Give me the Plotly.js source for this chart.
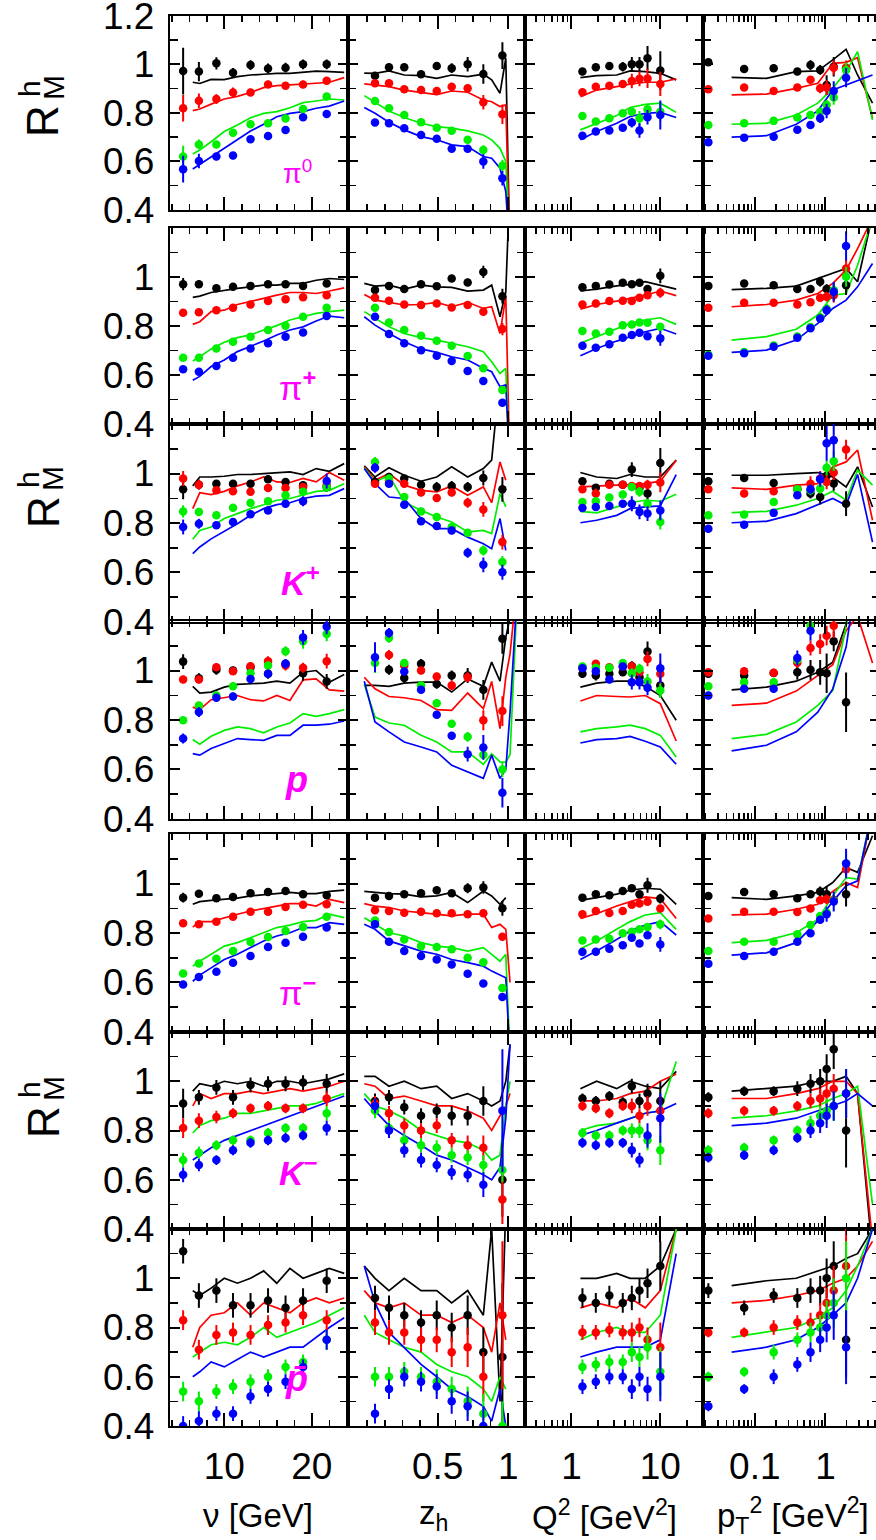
<!DOCTYPE html>
<html><head><meta charset="utf-8">
<script src="https://cdn.plot.ly/plotly-3.0.1.min.js"></script>
<style>html,body{margin:0;padding:0;overflow:hidden;background:#fff}#plot{width:882px;height:1540px}</style>
</head><body><div id="plot"></div>
<script>
// ---------- x positions ----------
const NU_PTS  = [5.3, 7.1, 9.1, 11.0, 13.0, 15.0, 17.0, 19.0, 21.7];
const NU_LINE = [6.4, 7.2, 8.5, 10, 11.5, 13, 14.5, 16, 17.5, 19, 20.5, 22, 23.7];
const Z_PTS   = [0.056, 0.155, 0.263, 0.382, 0.493, 0.599, 0.712, 0.823, 0.958];
const Z_LINE  = [-0.02, 0.056, 0.155, 0.263, 0.382, 0.493, 0.599, 0.712, 0.823, 0.882, 0.941, 0.982, 1.012, 1.071];
const Q2_PTS  = [1.33, 1.88, 2.67, 3.78, 4.78, 5.83, 7.18, 10];
const Q2_LINE = [1.26, 1.92, 3.23, 4.57, 6.77, 10, 15.1];
const PT_PTS  = [0.022, 0.0707, 0.185, 0.40, 0.615, 0.842, 1.04, 1.31, 1.96];
const PT_LINE = [0.047, 0.146, 0.386, 0.78, 1.27, 1.96, 2.85, 4.64];

// series order in every array: black, red, green, blue
// ================= pi0 =================
const pi0_nu_pts = [[0.972,0.970,1.004,0.965,0.997,0.983,0.986,1.0,1.0],[0.819,0.85,0.857,0.884,0.884,0.917,0.912,0.917,0.932],[0.62,0.67,0.67,0.718,0.753,0.757,0.777,0.816,0.867],[0.568,0.602,0.62,0.624,0.691,0.705,0.729,0.782,0.795]];
const pi0_nu_err = [[0.096,0.04,0.025,0.02,0.02,0.02,0.02,0.02,0.02],[0.055,0.03,0.02,0.02,0.015,0.015,0.015,0.015,0.015],[0.045,0.02,0.015,0.015,0.015,0.015,0.015,0.015,0.015],[0.055,0.03,0.015,0.015,0.015,0.015,0.015,0.015,0.015]];
const pi0_nu_lin = [[0.926,0.921,0.938,0.937,0.949,0.956,0.959,0.963,0.963,0.967,0.972,0.97,0.967],[0.809,0.816,0.836,0.857,0.868,0.884,0.904,0.912,0.915,0.92,0.922,0.926,0.945],[0.631,0.647,0.681,0.723,0.75,0.78,0.798,0.805,0.821,0.842,0.849,0.857,0.853],[0.569,0.588,0.62,0.654,0.688,0.725,0.753,0.784,0.798,0.805,0.819,0.828,0.849]];
const pi0_z_pts = [[0.953,0.988,0.988,0.959,0.993,0.984,1.0,0.96,1.036],[0.922,0.922,0.897,0.894,0.89,0.908,0.901,0.844,0.794],[0.849,0.819,0.791,0.761,0.739,0.726,0.689,0.647,0.582],[0.76,0.757,0.737,0.709,0.693,0.652,0.652,0.6,0.531]];
const pi0_z_err = [[0.015,0.015,0.015,0.015,0.015,0.02,0.03,0.04,0.055],[0.012,0.012,0.012,0.012,0.012,0.015,0.015,0.03,0.04],[0.012,0.012,0.012,0.012,0.012,0.012,0.015,0.02,0.025],[0.012,0.012,0.012,0.012,0.012,0.012,0.015,0.03,0.03]];
const pi0_z_lin = [[0.964,0.963,0.973,0.956,0.953,0.942,0.956,0.949,0.959,0.936,0.881,1.025,0.2,null],[0.919,0.915,0.908,0.894,0.885,0.875,0.89,0.885,0.853,0.846,0.826,0.833,0.2,null],[0.871,0.844,0.808,0.781,0.757,0.743,0.737,0.726,0.709,0.689,0.654,0.6,0.2,null],[0.822,0.798,0.761,0.73,0.702,0.689,0.668,0.661,0.62,0.613,0.572,0.476,0.2,null]];
const pi0_q2_pts = [[0.97,0.988,0.993,0.99,1.0,1.0,1.025,0.974],[0.885,0.908,0.912,0.919,0.931,0.94,0.942,0.919],[0.787,0.764,0.778,0.798,0.805,0.778,0.815,0.805],[0.706,0.723,0.727,0.739,0.76,0.727,0.782,0.791]];
const pi0_q2_err = [[0.015,0.015,0.015,0.02,0.03,0.03,0.05,0.08],[0.015,0.015,0.015,0.015,0.03,0.03,0.04,0.05],[0.012,0.012,0.012,0.012,0.015,0.03,0.02,0.04],[0.012,0.012,0.012,0.015,0.02,0.03,0.03,0.06]];
const pi0_q2_lin = [[0.945,0.953,0.956,0.973,0.97,0.963,0.936],[0.867,0.894,0.908,0.918,0.926,0.926,0.94],[0.73,0.757,0.789,0.822,0.835,0.84,0.802],[0.689,0.723,0.757,0.785,0.798,0.802,0.781]];
const pi0_pt_pts = [[1.008,0.981,0.984,0.97,0.997,0.977,0.915,0.99,0.984],[0.897,0.904,0.89,0.904,0.936,0.901,0.904,0.986,0.986],[0.75,0.757,0.767,0.781,0.791,0.805,0.833,0.863,0.977],[0.679,0.698,0.702,0.73,0.75,0.778,0.808,0.89,0.945]];
const pi0_pt_err = [[0.015,0.015,0.015,0.015,0.02,0.02,0.04,0.04,0.03],[0.012,0.012,0.012,0.012,0.015,0.02,0.03,0.03,0.03],[0.012,0.012,0.012,0.012,0.015,0.015,0.02,0.03,0.03],[0.012,0.012,0.012,0.012,0.015,0.02,0.03,0.04,0.04]];
const pi0_pt_lin = [[0.946,0.942,0.97,0.973,1.018,1.062,0.956,0.84],[0.874,0.877,0.901,0.922,1.004,1.008,1.027,0.778],[0.753,0.757,0.791,0.84,0.901,0.97,1.052,0.771],[0.7,0.706,0.753,0.808,0.894,0.915,0.931,0.956]];
// ================= pi+ =================
const pip_nu_pts = [[0.97,0.97,0.953,0.959,0.963,0.97,0.97,0.963,0.973],[0.853,0.856,0.864,0.874,0.887,0.901,0.909,0.917,0.925],[0.67,0.67,0.708,0.735,0.756,0.783,0.8,0.837,0.874],[0.623,0.613,0.636,0.67,0.708,0.729,0.756,0.773,0.84]];
const pip_nu_err = [[0.025,0.015,0.012,0.012,0.012,0.012,0.012,0.012,0.015],null,null,null];
const pip_nu_lin = [[0.916,0.921,0.936,0.946,0.953,0.959,0.966,0.966,0.973,0.973,0.986,0.993,0.989],[0.806,0.817,0.858,0.864,0.887,0.901,0.912,0.925,0.936,0.936,0.932,0.942,0.955],[0.657,0.674,0.706,0.733,0.752,0.763,0.783,0.801,0.824,0.837,0.851,0.858,0.864],[0.578,0.594,0.634,0.661,0.695,0.715,0.738,0.763,0.783,0.796,0.82,0.84,0.833]];
const pip_z_pts = [[0.946,0.963,0.95,0.97,0.962,0.993,0.977,1.02,0.921],[0.915,0.902,0.887,0.885,0.891,0.875,0.885,0.858,0.787],[0.874,0.814,0.783,0.76,0.739,0.719,0.677,0.627,0.539],[0.837,0.767,0.729,0.701,0.678,0.657,0.616,0.575,0.487]];
const pip_z_err = [[0.012,0.012,0.012,0.012,0.012,0.012,0.015,0.025,0.03],[0.012,0.012,0.012,0.012,0.012,0.012,0.012,0.015,0.025],null,null];
const pip_z_lin = [[0.973,0.962,0.966,0.95,0.966,0.959,0.957,0.942,0.946,0.966,0.837,0.939,1.4,null],[0.928,0.905,0.896,0.885,0.887,0.896,0.878,0.896,0.871,0.878,0.769,0.919,0.2,null],[0.858,0.83,0.796,0.769,0.752,0.742,0.729,0.715,0.695,0.654,0.606,0.627,0.2,null],[0.837,0.803,0.769,0.735,0.706,0.692,0.674,0.661,0.627,0.613,0.552,0.559,0.2,null]];
const pip_q2_pts = [[0.957,0.963,0.969,0.976,0.97,0.976,0.95,1.004],[0.887,0.891,0.901,0.902,0.901,0.915,0.925,0.935],[0.779,0.769,0.776,0.803,0.806,0.814,0.813,0.796],[0.719,0.711,0.725,0.752,0.763,0.772,0.758,0.749]];
const pip_q2_err = [[0.012,0.012,0.012,0.012,0.012,0.012,0.015,0.03],[0.012,0.012,0.012,0.012,0.012,0.012,0.015,0.02],null,[0.012,0.012,0.012,0.012,0.012,0.012,0.015,0.03]];
const pip_q2_lin = [[0.942,0.95,0.963,0.969,0.98,0.966,0.95],[0.868,0.887,0.901,0.912,0.925,0.942,0.923],[0.729,0.756,0.79,0.81,0.824,0.833,0.806],[0.678,0.708,0.738,0.756,0.776,0.79,0.767]];
const pip_pt_pts = [[0.963,0.973,0.966,0.95,0.95,0.98,0.95,0.942,0.966],[0.874,0.894,0.894,0.887,0.896,0.915,0.919,0.925,1.034],[0.683,0.693,0.72,0.757,0.795,0.835,0.87,0.945,1.0],[0.678,0.688,0.715,0.752,0.79,0.83,0.864,0.939,1.126]];
const pip_pt_err = [[0.012,0.012,0.012,0.012,0.015,0.02,0.02,0.03,0.04],[0.012,0.012,0.012,0.012,0.012,0.015,0.02,0.03,0.04],[0.012,0.012,0.012,0.012,0.012,0.015,0.02,0.03,0.04],[0.012,0.012,0.012,0.012,0.012,0.015,0.02,0.04,0.06]];
const pip_pt_lin = [[0.948,0.953,0.962,0.993,1.014,1.034,0.98,1.25],[0.878,0.887,0.905,0.932,0.973,1.027,1.115,1.24],[0.742,0.756,0.786,0.844,0.925,0.932,1.047,1.24],[0.692,0.701,0.742,0.81,0.871,0.905,0.959,1.054]];
// ================= K+ =================
const kp_nu_pts = [[0.936,0.955,0.959,0.959,0.959,0.977,0.966,0.953,0.946],[0.98,0.955,0.932,0.928,0.926,0.942,0.942,0.946,0.953],[0.847,0.845,0.831,0.862,0.881,0.888,0.912,0.926,0.946],[0.784,0.797,0.791,0.804,0.835,0.851,0.878,0.888,0.97]];
const kp_nu_err = [[0.04,0.02,0.015,0.015,0.015,0.015,0.015,0.015,0.02],[0.03,0.02,0.015,0.015,0.015,0.015,0.015,0.015,0.02],[0.025,0.015,0.015,0.015,0.015,0.015,0.015,0.015,0.02],[0.03,0.02,0.015,0.015,0.015,0.015,0.015,0.02,0.03]];
const kp_nu_lin = [[0.95,0.986,0.986,0.989,0.996,0.996,1.0,1.004,1.007,0.996,1.02,1.009,1.04],[0.858,0.923,0.915,0.928,0.95,0.966,0.986,0.966,0.964,0.98,0.966,1.004,0.973],[0.734,0.77,0.784,0.818,0.838,0.858,0.874,0.892,0.899,0.915,0.928,0.932,0.959],[0.676,0.703,0.736,0.766,0.797,0.831,0.858,0.874,0.882,0.899,0.909,0.912,0.939]];
const kp_z_pts = [[0.966,0.986,0.98,0.955,0.946,0.95,0.946,0.982,0.936],[0.959,0.973,0.959,0.923,0.901,0.923,0.882,0.855,0.723],[1.047,0.98,0.905,0.847,0.824,0.784,0.761,0.689,0.642],[1.023,0.959,0.874,0.807,0.788,0.77,0.68,0.631,0.601]];
const kp_z_err = [[0.02,0.015,0.015,0.015,0.02,0.02,0.02,0.03,0.05],[0.015,0.015,0.015,0.015,0.015,0.015,0.02,0.03,0.03],[0.02,0.015,0.015,0.015,0.015,0.015,0.015,0.02,0.025],[0.02,0.015,0.015,0.015,0.015,0.015,0.02,0.03,0.03]];
const kp_z_lin = [[1.031,0.986,1.023,0.993,0.969,0.986,1.027,0.986,1.02,1.054,1.4,null,null,null],[1.027,0.973,1.0,0.953,0.932,0.926,0.95,0.912,0.946,0.882,1.047,0.973,null,null],[1.023,0.966,0.993,0.885,0.851,0.824,0.804,0.764,0.77,0.757,0.919,0.865,null,null],[1.02,0.959,0.905,0.899,0.818,0.777,0.777,0.743,0.716,0.696,0.818,0.689,null,null]];
const kp_q2_pts = [[0.969,0.943,0.959,0.955,1.016,0.942,0.919,1.043],[0.936,0.919,0.955,0.955,0.95,0.95,0.955,0.964],[0.885,0.888,0.903,0.915,0.946,0.926,0.878,0.804],[0.861,0.865,0.869,0.878,0.878,0.845,0.838,0.851]];
const kp_q2_err = [[0.015,0.015,0.015,0.015,0.03,0.02,0.03,0.06],[0.015,0.02,0.015,0.015,0.015,0.015,0.02,0.04],[0.015,0.015,0.015,0.015,0.015,0.02,0.02,0.03],[0.015,0.015,0.015,0.015,0.03,0.03,0.03,0.04]];
const kp_q2_lin = [[1.004,0.986,0.98,0.996,0.986,0.986,1.054],[0.946,0.95,0.953,0.955,0.959,0.969,1.054],[0.847,0.841,0.865,0.882,0.892,0.888,0.916],[0.801,0.811,0.831,0.858,0.865,0.869,0.996]];
const kp_pt_pts = [[0.969,0.982,0.962,0.936,0.919,0.905,0.991,0.96,0.878],[0.936,0.919,0.928,0.939,0.959,0.98,0.966,1.004,1.097],[0.831,0.834,0.885,0.936,0.932,0.939,1.023,1.05,1.3],[0.777,0.793,0.841,0.912,0.936,0.977,1.122,1.135,1.3]];
const kp_pt_err = [[0.015,0.015,0.015,0.02,0.02,0.03,0.02,0.03,0.05],[0.015,0.015,0.015,0.015,0.03,0.03,0.03,0.03,0.04],[0.015,0.015,0.015,0.015,0.02,0.02,0.03,0.04,0.04],[0.015,0.015,0.015,0.015,0.02,0.03,0.07,0.07,0.05]];
const kp_pt_lin = [[0.993,0.993,1.0,1.004,0.986,0.946,1.027,0.865],[0.942,0.936,0.953,0.959,1.027,1.047,1.095,0.811],[0.842,0.847,0.872,0.899,0.928,0.892,1.014,0.953],[0.801,0.807,0.838,0.874,0.899,0.872,0.996,0.723]];
// ================= p =================
const p_nu_pts = [[1.036,0.969,1.003,1.0,1.013,0.987,1.027,0.989,0.956],[0.964,0.964,1.013,0.997,1.017,1.038,1.02,1.011,1.038],[0.799,0.859,0.899,0.936,0.989,1.02,1.078,1.118,1.148],[0.725,0.832,0.89,0.895,0.966,0.987,1.027,1.134,1.177]];
const p_nu_err = [[0.03,0.02,0.02,0.015,0.02,0.02,0.015,0.03,0.03],[0.015,0.015,0.015,0.015,0.015,0.02,0.02,0.02,0.03],[0.015,0.015,0.015,0.015,0.015,0.015,0.02,0.03,0.03],[0.02,0.02,0.015,0.015,0.015,0.015,0.02,0.03,0.03]];
const p_nu_lin = [[0.936,0.909,0.913,0.933,0.944,0.946,0.949,0.957,0.949,0.993,1.0,0.953,0.984],[0.852,0.842,0.882,0.89,0.899,0.882,0.877,0.899,0.879,0.962,0.966,0.922,0.917],[0.721,0.702,0.734,0.758,0.772,0.765,0.748,0.772,0.788,0.826,0.815,0.826,0.842],[0.664,0.658,0.685,0.705,0.725,0.721,0.718,0.738,0.738,0.779,0.779,0.783,0.796]];
const p_z_pts = [[1.3,1.003,0.97,1.027,0.946,0.98,0.98,0.922,1.128],[1.3,1.063,1.02,1.0,0.976,0.94,0.973,0.799,0.836],[1.03,1.132,1.03,0.94,0.868,0.785,0.732,0.66,0.6],[1.054,1.152,0.996,0.922,0.821,0.736,0.662,0.689,0.506]];
const p_z_err = [[0,0.02,0.02,0.02,0.02,0.02,0.03,0.04,0.06],[0,0.02,0.015,0.015,0.015,0.02,0.02,0.04,0.06],[0.04,0.02,0.015,0.015,0.015,0.015,0.02,0.02,0.03],[0.06,0.02,0.015,0.015,0.015,0.015,0.03,0.05,0.06]];
const p_z_lin = [[0.94,0.94,0.936,0.949,0.953,0.953,0.913,0.966,0.936,1.034,0.957,1.134,1.215,1.4],[0.973,0.926,0.895,0.89,0.879,0.842,0.839,0.909,0.846,0.956,0.765,0.973,1.067,1.4],[0.944,0.812,0.788,0.779,0.738,0.711,0.671,0.671,0.621,0.664,0.631,0.63,0.66,1.4],[0.957,0.792,0.752,0.711,0.691,0.671,0.617,0.591,0.564,0.658,0.564,0.6,0.832,1.4]];
const p_q2_pts = [[0.987,0.98,0.987,0.993,1.018,0.973,1.077,0.94],[1.011,1.027,1.013,1.016,1.016,0.993,1.047,0.987],[1.016,1.011,1.011,1.03,0.989,1.007,0.956,0.919],[1.009,0.997,0.964,1.016,0.953,0.953,0.93,1.009]];
const p_q2_err = [[0.015,0.02,0.015,0.015,0.02,0.03,0.04,0.05],[0.015,0.015,0.015,0.015,0.02,0.02,0.03,0.05],[0.015,0.015,0.015,0.015,0.02,0.02,0.03,0.03],[0.015,0.015,0.015,0.015,0.03,0.03,0.03,0.06]];
const p_q2_lin = [[0.933,0.949,0.957,0.957,0.936,0.899,0.799],[0.877,0.899,0.895,0.893,0.899,0.866,0.715],[0.752,0.765,0.772,0.779,0.765,0.738,0.651],[0.707,0.721,0.725,0.734,0.714,0.691,0.621]];
const p_pt_pts = [[0.987,0.98,0.99,0.993,1.003,0.993,0.989,1.118,0.872],[0.993,0.997,0.991,1.031,1.091,1.107,1.141,1.181,1.3],[0.936,0.953,0.953,1.043,1.181,1.3,1.3,1.3,1.3],[0.899,0.926,0.926,1.051,1.161,1.3,1.3,1.3,1.3]];
const p_pt_err = [[0.015,0.015,0.015,0.03,0.04,0.05,0.08,0.04,0.12],[0.015,0.015,0.015,0.02,0.03,0.04,0.04,0.05,0],[0.015,0.015,0.015,0.02,0.03,0,0,0,0],[0.015,0.015,0.015,0.03,0.04,0,0,0,0]];
const p_pt_lin = [[0.922,0.933,0.957,0.993,1.034,1.188,1.4,null],[0.859,0.868,0.917,0.98,1.024,1.161,1.22,1.03],[0.725,0.742,0.792,0.859,0.919,1.174,1.4,null],[0.675,0.698,0.752,0.832,0.926,1.094,1.4,null]];
// ================= pi- =================
const pim_nu_pts = [[0.943,0.959,0.941,0.946,0.961,0.966,0.97,0.957,0.953],[0.839,0.835,0.846,0.866,0.886,0.886,0.905,0.914,0.916],[0.636,0.677,0.696,0.727,0.764,0.784,0.808,0.824,0.866],[0.592,0.622,0.643,0.68,0.707,0.743,0.761,0.785,0.822]];
const pim_nu_err = [[0.02,0.012,0.012,0.012,0.012,0.012,0.012,0.012,0.012],null,null,null];
const pim_nu_lin = [[0.916,0.927,0.932,0.936,0.941,0.95,0.954,0.957,0.964,0.959,0.959,0.968,0.973],[0.824,0.846,0.846,0.862,0.876,0.889,0.899,0.909,0.919,0.919,0.909,0.936,0.923],[0.666,0.686,0.714,0.747,0.761,0.781,0.801,0.822,0.832,0.846,0.851,0.876,0.862],[0.605,0.63,0.659,0.693,0.714,0.741,0.768,0.788,0.801,0.822,0.822,0.842,0.835]];
const pim_z_pts = [[0.943,0.95,0.957,0.961,0.973,0.961,0.981,0.984,0.9],[0.892,0.889,0.882,0.886,0.88,0.88,0.876,0.88,0.785],[0.851,0.804,0.774,0.747,0.743,0.734,0.7,0.682,0.578],[0.835,0.765,0.727,0.707,0.693,0.673,0.635,0.596,0.541]];
const pim_z_err = [[0.012,0.012,0.012,0.012,0.012,0.012,0.02,0.025,0.03],null,null,null];
const pim_z_lin = [[0.968,0.964,0.959,0.957,0.946,0.95,0.964,0.923,0.97,0.95,0.916,0.943,null,null],[0.919,0.909,0.903,0.889,0.882,0.876,0.869,0.876,0.876,0.822,0.835,0.815,0.6,null],[0.862,0.835,0.801,0.788,0.761,0.747,0.741,0.727,0.741,0.714,0.686,0.714,0.3,null],[0.835,0.815,0.768,0.747,0.727,0.714,0.693,0.68,0.666,0.646,0.632,0.619,0.3,null]];
const pim_q2_pts = [[0.943,0.957,0.953,0.97,0.981,0.957,0.993,0.939],[0.876,0.889,0.881,0.889,0.914,0.919,0.926,0.899],[0.77,0.774,0.777,0.799,0.805,0.815,0.824,0.835],[0.723,0.724,0.736,0.751,0.781,0.758,0.791,0.754]];
const pim_q2_err = [[0.012,0.012,0.012,0.012,0.012,0.012,0.03,0.02],null,[0.012,0.012,0.012,0.012,0.012,0.012,0.012,0.02],[0.012,0.012,0.012,0.012,0.012,0.012,0.015,0.03]];
const pim_q2_lin = [[0.932,0.943,0.957,0.973,0.981,0.977,0.916],[0.859,0.878,0.909,0.927,0.946,0.939,0.859],[0.736,0.768,0.815,0.846,0.873,0.882,0.815],[0.693,0.727,0.774,0.808,0.832,0.846,0.792]];
const pim_pt_pts = [[0.95,0.966,0.957,0.941,0.957,0.968,0.957,0.932,0.957],[0.859,0.886,0.886,0.885,0.899,0.932,0.936,0.932,1.058],[0.727,0.765,0.765,0.795,0.832,0.869,0.882,0.93,1.081],[0.676,0.707,0.724,0.765,0.799,0.854,0.876,0.927,1.081]];
const pim_pt_err = [[0.012,0.012,0.012,0.012,0.015,0.02,0.03,0.02,0.05],[0.012,0.012,0.012,0.012,0.012,0.015,0.02,0.02,0.03],[0.012,0.012,0.012,0.012,0.012,0.015,0.02,0.02,0.04],[0.012,0.012,0.012,0.012,0.012,0.015,0.03,0.04,0.06]];
const pim_pt_lin = [[0.943,0.936,0.95,0.964,1.004,1.065,1.045,1.193],[0.873,0.876,0.896,0.916,0.968,1.004,0.984,1.3],[0.761,0.77,0.801,0.855,0.95,1.024,1.018,1.3],[0.711,0.72,0.761,0.849,0.927,0.991,1.011,1.3]];
// ================= K- =================
const km_nu_pts = [[0.91,0.935,0.975,0.935,0.985,0.99,0.99,0.995,0.99],[0.81,0.84,0.855,0.87,0.89,0.9,0.89,0.89,0.93],[0.68,0.71,0.74,0.76,0.76,0.79,0.81,0.81,0.87],[0.62,0.66,0.68,0.72,0.75,0.76,0.77,0.78,0.81]];
const km_nu_err = [[0.06,0.03,0.03,0.03,0.03,0.03,0.03,0.03,0.04],[0.04,0.03,0.025,0.02,0.02,0.02,0.02,0.02,0.03],[0.03,0.025,0.02,0.02,0.02,0.02,0.02,0.02,0.03],[0.03,0.025,0.02,0.02,0.02,0.02,0.02,0.02,0.03]];
const km_nu_lin = [[0.96,0.99,0.98,1.0,0.99,1.0,0.98,1.0,1.0,0.99,1.0,1.01,1.03],[0.9,0.95,0.93,0.95,0.95,0.96,0.95,0.96,0.97,0.96,0.97,0.98,1.0],[0.79,0.82,0.84,0.85,0.87,0.87,0.88,0.89,0.9,0.9,0.91,0.93,0.95],[0.68,0.7,0.73,0.76,0.78,0.8,0.82,0.84,0.86,0.88,0.9,0.92,0.94]];
const km_z_pts = [[0.92,0.935,0.895,0.86,0.88,0.86,0.86,0.92,0.6],[0.91,0.87,0.82,0.8,0.82,0.76,0.74,0.73,0.52],[0.88,0.81,0.76,0.74,0.73,0.7,0.69,0.66,0.64],[0.9,0.8,0.72,0.68,0.66,0.63,0.62,0.58,0.88]];
const km_z_err = [[0.03,0.03,0.03,0.03,0.03,0.04,0.04,0.06,0.15],[0.03,0.03,0.03,0.03,0.03,0.03,0.04,0.05,0.1],[0.03,0.03,0.03,0.03,0.03,0.03,0.03,0.04,0.05],[0.03,0.03,0.03,0.03,0.03,0.03,0.03,0.05,0.25]];
const km_z_lin = [[1.02,1.02,0.98,1.0,0.97,0.98,0.93,0.95,0.92,0.9,0.92,1.0,1.15,null],[0.99,0.98,0.93,0.94,0.92,0.9,0.9,0.88,0.85,0.8,0.86,0.9,0.95,null],[0.95,0.9,0.88,0.85,0.8,0.78,0.76,0.75,0.72,0.68,0.7,0.9,1.0,null],[0.93,0.88,0.82,0.78,0.74,0.7,0.68,0.65,0.62,0.6,0.65,0.85,1.15,null]];
const km_q2_pts = [[0.93,0.92,0.94,0.915,0.98,0.92,0.95,0.92],[0.9,0.89,0.87,0.9,0.9,0.86,0.9,0.88],[0.79,0.78,0.78,0.8,0.8,0.8,0.76,0.72],[0.75,0.74,0.75,0.75,0.72,0.68,0.78,0.85]];
const km_q2_err = [[0.02,0.02,0.02,0.02,0.03,0.03,0.04,0.08],[0.02,0.02,0.02,0.02,0.03,0.03,0.04,0.06],[0.02,0.02,0.02,0.02,0.03,0.03,0.04,0.06],[0.02,0.02,0.02,0.02,0.03,0.03,0.05,0.1]];
const km_q2_lin = [[0.97,1.0,0.97,1.0,0.98,0.97,1.04],[0.92,0.92,0.93,0.95,0.96,1.0,1.03],[0.8,0.82,0.83,0.85,0.87,0.88,1.08],[0.78,0.8,0.83,0.85,0.87,0.88,0.91]];
const km_pt_pts = [[0.935,0.96,0.96,0.97,0.99,1.0,1.05,1.13,0.8],[0.87,0.88,0.88,0.9,0.92,0.93,0.95,0.97,0.95],[0.72,0.73,0.76,0.8,0.83,0.86,0.88,0.9,0.95],[0.69,0.7,0.72,0.77,0.8,0.83,0.86,0.9,0.95]];
const km_pt_err = [[0.02,0.02,0.02,0.03,0.04,0.05,0.06,0.08,0.15],[0.02,0.02,0.02,0.02,0.03,0.04,0.05,0.06,0.1],[0.02,0.02,0.02,0.02,0.03,0.04,0.05,0.06,0.1],[0.02,0.02,0.02,0.02,0.03,0.04,0.05,0.06,0.1]];
const km_pt_lin = [[0.96,0.97,0.98,1.0,1.0,1.02,0.95,0.3],[0.93,0.93,0.95,0.97,1.0,1.0,0.95,0.35],[0.85,0.86,0.88,0.9,0.93,0.95,0.98,0.5],[0.82,0.83,0.85,0.88,0.9,0.92,0.95,0.9]];
// ================= p-bar =================
const pbar_nu_pts = [[1.11,0.93,0.95,0.89,0.89,0.91,0.88,0.91,0.99],[0.83,0.71,0.77,0.78,0.77,0.81,0.82,0.85,0.83],[0.54,0.5,0.54,0.56,0.58,0.6,0.64,0.66,0.75],[0.4,0.42,0.45,0.45,0.52,0.55,0.58,0.64,0.75]];
const pbar_nu_err = [[0.05,0.05,0.05,0.05,0.05,0.05,0.05,0.05,0.05],[0.04,0.04,0.04,0.04,0.04,0.04,0.04,0.04,0.04],[0.04,0.04,0.03,0.03,0.03,0.03,0.03,0.03,0.04],[0.04,0.04,0.03,0.03,0.03,0.03,0.03,0.03,0.04]];
const pbar_nu_lin = [[0.95,0.93,0.96,1.0,0.98,1.0,1.03,0.98,1.04,1.0,1.02,1.04,1.02],[0.72,0.8,0.85,0.86,0.9,0.85,0.9,0.88,0.86,0.9,0.92,0.9,0.92],[0.68,0.7,0.73,0.74,0.73,0.76,0.8,0.76,0.78,0.8,0.82,0.85,0.88],[0.6,0.62,0.66,0.64,0.67,0.7,0.68,0.7,0.72,0.72,0.76,0.8,0.84]];
const pbar_z_pts = [[0.92,0.88,0.85,0.82,0.85,0.8,0.85,0.7,0.68],[0.82,0.78,0.78,0.75,0.75,0.7,0.72,0.6,0.85],[0.6,0.6,0.62,0.6,0.58,0.55,0.5,0.45,0.4],[0.45,0.55,0.6,0.58,0.56,0.5,0.48,0.4,0.3]];
const pbar_z_err = [[0.05,0.05,0.05,0.05,0.06,0.06,0.08,0.1,0.3],[0.05,0.05,0.05,0.05,0.05,0.06,0.08,0.1,0.3],[0.04,0.04,0.04,0.04,0.05,0.05,0.06,0.08,0.1],[0.04,0.04,0.04,0.04,0.05,0.05,0.06,0.08,0.1]];
const pbar_z_lin = [[1.05,1.0,0.95,1.0,0.95,0.95,0.9,0.95,0.85,1.2,0.5,1.3,null,null],[0.95,0.9,0.88,0.9,0.85,0.85,0.82,0.85,0.8,0.7,0.9,0.75,null,null],[0.85,0.78,0.75,0.72,0.7,0.65,0.62,0.6,0.55,0.5,0.6,0.55,null,null],[1.05,0.9,0.78,0.72,0.65,0.6,0.55,0.52,0.48,0.42,0.55,0.4,null,null]];
const pbar_q2_pts = [[0.92,0.9,0.93,0.9,0.92,0.95,0.98,1.05],[0.78,0.78,0.79,0.78,0.78,0.8,0.75,0.72],[0.64,0.65,0.66,0.66,0.7,0.68,0.72,0.62],[0.56,0.58,0.6,0.6,0.55,0.6,0.55,0.6]];
const pbar_q2_err = [[0.04,0.04,0.04,0.04,0.05,0.05,0.06,0.1],[0.03,0.03,0.03,0.03,0.04,0.04,0.05,0.1],[0.03,0.03,0.03,0.03,0.04,0.04,0.05,0.1],[0.03,0.03,0.03,0.03,0.04,0.04,0.05,0.1]];
const pbar_q2_lin = [[1.0,1.0,1.02,1.0,1.0,1.05,1.2],[0.88,0.9,0.88,0.92,0.88,0.95,1.2],[0.75,0.78,0.8,0.78,0.78,0.85,1.2],[0.68,0.7,0.72,0.72,0.72,0.75,1.1]];
const pbar_pt_pts = [[0.95,0.88,0.93,0.92,0.95,0.95,1.0,1.05,0.75],[0.78,0.78,0.8,0.82,0.82,0.85,0.9,0.95,1.05],[0.6,0.62,0.7,0.75,0.78,0.8,0.85,0.9,1.0],[0.48,0.55,0.6,0.65,0.7,0.75,0.8,0.85,0.72]];
const pbar_pt_err = [[0.03,0.03,0.03,0.04,0.05,0.06,0.08,0.1,0.15],[0.02,0.02,0.03,0.03,0.04,0.05,0.06,0.1,0.15],[0.02,0.02,0.03,0.03,0.04,0.05,0.06,0.1,0.15],[0.02,0.02,0.03,0.03,0.04,0.05,0.06,0.1,0.15]];
const pbar_pt_lin = [[0.97,0.99,1.0,1.03,1.05,1.08,1.1,1.2],[0.9,0.91,0.93,0.95,0.98,1.0,1.05,1.15],[0.76,0.78,0.8,0.84,0.88,0.95,1.05,1.2],[0.7,0.72,0.75,0.8,0.85,0.9,1.0,1.2]];

// ---------- tick labels / text ----------
const X_TICKVALS = [[10,20],[0.5,1],[1,10],[0.1,1]];
const X_TICKTEXT = [["10","20"],["0.5","1"],["1","10"],["0.1","1"]];
const Y_TICKVALS_TOP = [0.4,0.6,0.8,1.0,1.2];
const Y_TICKTEXT_TOP = ["0.4","0.6","0.8","1","1.2"];
const Y_TICKVALS = [0.4,0.6,0.8,1.0];
const Y_TICKTEXT = ["0.4","0.6","0.8","1"];
const X_TITLES = ["ν [GeV]","z<sub>h</sub>","Q<sup>2</sup> [GeV<sup>2</sup>]","p<sub>T</sub><sup>2</sup> [GeV<sup>2</sup>]"];
const HADRONS = ["π<sup>0</sup>","π<sup><b>+</b></sup>","<b><i>K<sup>+</sup></i></b>","<b><i>p</i></b>","π<sup><b>−</b></sup>","<b><i>K<sup>−</sup></i></b>","<b><i>p̄</i></b>"];

const PANELS = [
  [[pi0_nu_pts,pi0_nu_err,pi0_nu_lin],[pi0_z_pts,pi0_z_err,pi0_z_lin],[pi0_q2_pts,pi0_q2_err,pi0_q2_lin],[pi0_pt_pts,pi0_pt_err,pi0_pt_lin]],
  [[pip_nu_pts,pip_nu_err,pip_nu_lin],[pip_z_pts,pip_z_err,pip_z_lin],[pip_q2_pts,pip_q2_err,pip_q2_lin],[pip_pt_pts,pip_pt_err,pip_pt_lin]],
  [[kp_nu_pts,kp_nu_err,kp_nu_lin],[kp_z_pts,kp_z_err,kp_z_lin],[kp_q2_pts,kp_q2_err,kp_q2_lin],[kp_pt_pts,kp_pt_err,kp_pt_lin]],
  [[p_nu_pts,p_nu_err,p_nu_lin],[p_z_pts,p_z_err,p_z_lin],[p_q2_pts,p_q2_err,p_q2_lin],[p_pt_pts,p_pt_err,p_pt_lin]],
  [[pim_nu_pts,pim_nu_err,pim_nu_lin],[pim_z_pts,pim_z_err,pim_z_lin],[pim_q2_pts,pim_q2_err,pim_q2_lin],[pim_pt_pts,pim_pt_err,pim_pt_lin]],
  [[km_nu_pts,km_nu_err,km_nu_lin],[km_z_pts,km_z_err,km_z_lin],[km_q2_pts,km_q2_err,km_q2_lin],[km_pt_pts,km_pt_err,km_pt_lin]],
  [[pbar_nu_pts,pbar_nu_err,pbar_nu_lin],[pbar_z_pts,pbar_z_err,pbar_z_lin],[pbar_q2_pts,pbar_q2_err,pbar_q2_lin],[pbar_pt_pts,pbar_pt_err,pbar_pt_lin]]
];
const X_PTS = [NU_PTS, Z_PTS, Q2_PTS, PT_PTS];
const X_LINE = [NU_LINE, Z_LINE, Q2_LINE, PT_LINE];

// ---------- layout geometry (pixels) ----------
const W = 882, H = 1540;
const COLS = [[170,347.7],[347.7,525],[525,702.7],[702.7,880.4]];
const ROWS = [[15.7,210],[227.7,424],[424,622],[621,819],[834,1032],[1032,1229],[1229,1426]];
const COLORS = ['#000000','#ff0000','#00ee00','#0000ff'];
const FONT = 'Liberation Sans, Arial, sans-serif';

function lg(v){return Math.log10(v);}
const Q2_MINOR = [0.3,0.4,0.5,0.6,0.7,0.8,0.9,2,3,4,5,6,7,8,9,20,30];
const PT_MINOR = [0.02,0.03,0.04,0.05,0.06,0.07,0.08,0.09,0.2,0.3,0.4,0.5,0.6,0.7,0.8,0.9,2,3,4,5,6];
const XBASE = [
  {type:'linear', range:[3.8,24.1], minor:{tickmode:'linear', tick0:0, dtick:2}},
  {type:'linear', range:[-0.1374,1.118], minor:{tickmode:'linear', tick0:0, dtick:0.125}},
  {type:'log', range:[lg(0.3),lg(30)], minor:{tickmode:'array', tickvals:Q2_MINOR}},
  {type:'log', range:[lg(0.0183),lg(6)], minor:{tickmode:'array', tickvals:PT_MINOR}}
];

const traces = [];
const layout = {
  width: W, height: H, margin:{l:0,r:0,t:0,b:0}, showlegend:false,
  paper_bgcolor:'#fff', plot_bgcolor:'rgba(0,0,0,0)',
  font:{family:FONT, color:'#000'}, annotations:[]
};

for (let r=0; r<7; r++) {
  for (let c=0; c<4; c++) {
    const i = r*4 + c + 1;
    const xn = 'x'+(i===1?'':i), yn = 'y'+(i===1?'':i);
    const xk = 'xaxis'+(i===1?'':i), yk = 'yaxis'+(i===1?'':i);
    const xb = XBASE[c];
    layout[xk] = {
      type: xb.type, range: xb.range, domain:[COLS[c][0]/W, COLS[c][1]/W], anchor: yn,
      tickmode:'array', tickvals: X_TICKVALS[c], ticktext: X_TICKTEXT[c],
      ticks:'inside', ticklen:13, tickwidth:2, tickcolor:'#000',
      minor: Object.assign({ticks:'inside', ticklen:6, tickwidth:1.5, tickcolor:'#000'}, xb.minor),
      showline:true, linewidth:2.2, linecolor:'#000', mirror:'allticks',
      showgrid:false, zeroline:false, showticklabels: r===6,
      tickfont:{family:FONT, size:37, color:'#000'}, ticklabelstandoff:6, ticklabeloverflow:'allow', fixedrange:true
    };
    layout[yk] = {
      range:[0.3999,1.2002], domain:[1-ROWS[r][1]/H, 1-ROWS[r][0]/H], anchor: xn,
      tickmode:'array', tickvals: r===0 ? Y_TICKVALS_TOP : Y_TICKVALS, ticktext: r===0 ? Y_TICKTEXT_TOP : Y_TICKTEXT,
      ticks:'inside', ticklen:10, tickwidth:2, tickcolor:'#000',
      minor:{ticks:'inside', ticklen:8, tickwidth:1.5, tickcolor:'#000', tickmode:'linear', tick0:0, dtick:0.1},
      showline:true, linewidth:2.2, linecolor:'#000', mirror:'allticks',
      showgrid:false, zeroline:false, showticklabels: c===0,
      tickfont:{family:FONT, size:37, color:'#000'}, ticklabelstandoff:6, ticklabeloverflow:'allow', fixedrange:true
    };
    const [pts, err, lin] = PANELS[r][c];
    for (let k=0; k<4; k++) {
      traces.push({x: X_LINE[c], y: lin[k], xaxis:xn, yaxis:yn, type:'scatter', mode:'lines',
        line:{color:COLORS[k], width:1.7}, connectgaps:false, hoverinfo:'skip'});
    }
    for (let k=0; k<4; k++) {
      const e = (err && err[k]) ? err[k] : pts[k].map(()=>0.012);
      traces.push({x: X_PTS[c], y: pts[k], xaxis:xn, yaxis:yn, type:'scatter', mode:'markers',
        marker:{color:COLORS[k], size:8.5, line:{width:0}},
        error_y:{type:'data', array:e, visible:true, color:COLORS[k], thickness:2, width:0},
        hoverinfo:'skip'});
    }
  }
}

function ann(text, px, py, size, extra) {
  layout.annotations.push(Object.assign({text:text, xref:'paper', yref:'paper', x:px/W, y:1-py/H,
    xanchor:'center', yanchor:'middle', showarrow:false, font:{family:FONT, size:size, color:'#000'}}, extra||{}));
}
// hadron labels
const HAD_POS = [[297,172],[297,385],[300,580],[296,780],[297,990],[298,1170],[296,1378]];
const HAD_SIZE = [27,34,34,36,34,34,36];
HADRONS.forEach((t,j)=>ann(t, HAD_POS[j][0], HAD_POS[j][1], HAD_SIZE[j], {font:{family:FONT, size:HAD_SIZE[j], color:'#ff00ff'}}));
// x titles
const XT_POS = [258, 433, 604, 793];
X_TITLES.forEach((t,j)=>ann(t, XT_POS[j], 1515, 33));
// y titles R_M^h (rows 1, 3, 6)
[[121,88],[512,479],[1122,1089]].forEach(([ry, sy])=>{
  ann('R', 43, ry, 44, {textangle:-90});
  ann('M', 53, sy, 30, {textangle:-90});
  ann('h', 29, sy, 30, {textangle:-90});
});

Plotly.newPlot('plot', traces, layout, {staticPlot:true, displayModeBar:false});
</script>
</body></html>
